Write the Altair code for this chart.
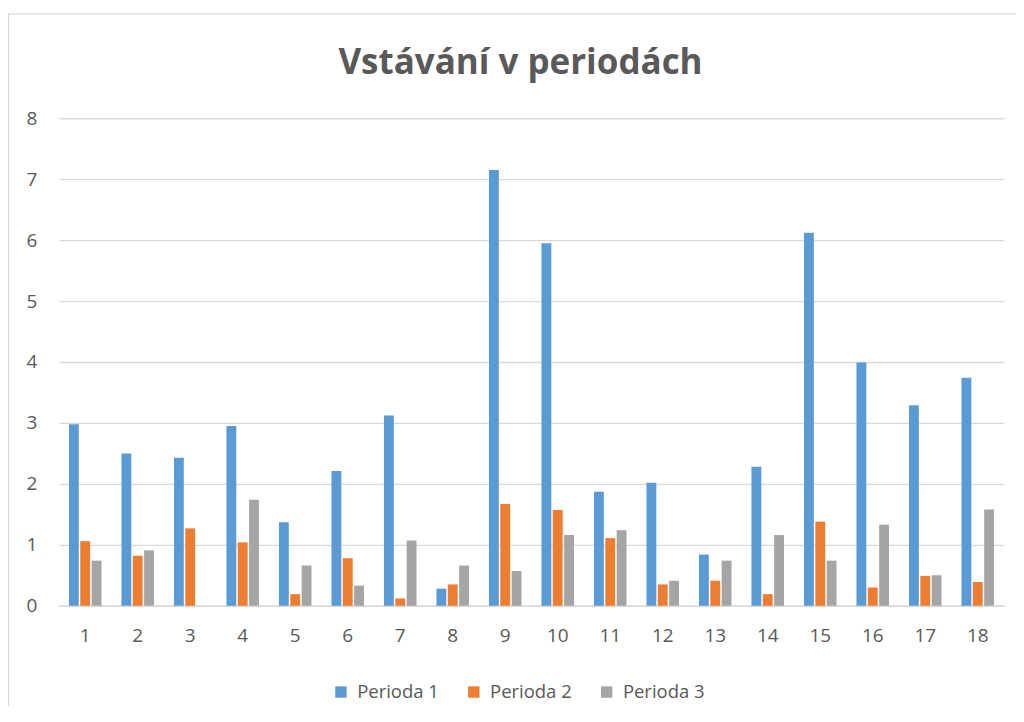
import altair as alt
import pandas as pd

categories = [str(i) for i in range(1, 19)]
series = ["Perioda 1", "Perioda 2", "Perioda 3"]
perioda1 = [2.98, 2.50, 2.43, 2.95, 1.37, 2.21, 3.12, 0.28, 7.15, 5.95, 1.87, 2.02, 0.84, 2.28, 6.12, 3.99, 3.29, 3.74]
perioda2 = [1.06, 0.82, 1.27, 1.04, 0.19, 0.78, 0.12, 0.35, 1.67, 1.57, 1.11, 0.35, 0.41, 0.19, 1.38, 0.30, 0.49, 0.39]
perioda3 = [0.74, 0.91, 0.00, 1.74, 0.66, 0.33, 1.07, 0.66, 0.57, 1.16, 1.24, 0.41, 0.74, 1.16, 0.74, 1.33, 0.50, 1.58]
colors = ["#5B9BD5", "#ED7D31", "#A5A5A5"]
title_text = "Vstávání v periodách"

rows = []
for s, vals in zip(series, [perioda1, perioda2, perioda3]):
    for c, v in zip(categories, vals):
        rows.append({"kategorie": c, "perioda": s, "hodnota": v})
df = pd.DataFrame(rows)

FONT = "Open Sans"
TXT = "#595959"
W, H = 946, 488

bars = alt.Chart(df).mark_bar().encode(
    x=alt.X("kategorie:N", sort=categories,
            scale=alt.Scale(paddingInner=0.38, paddingOuter=0.19),
            axis=alt.Axis(title=None, labelAngle=0, labelFontSize=19, labelColor=TXT,
                          labelFont=FONT, ticks=False, domain=True, domainColor="#D9D9D9",
                          domainWidth=1.5, labelPadding=21)),
    xOffset=alt.XOffset("perioda:N", sort=series, scale=alt.Scale(paddingInner=0.13)),
    y=alt.Y("hodnota:Q", scale=alt.Scale(domain=[0, 8]),
            axis=alt.Axis(title=None, values=list(range(0, 9)), labelFontSize=19,
                          labelColor=TXT, labelFont=FONT, ticks=False, domain=False,
                          gridColor="#D9D9D9", gridWidth=1.3, labelPadding=22)),
    color=alt.Color("perioda:N", sort=series,
                    scale=alt.Scale(domain=series, range=colors),
                    legend=alt.Legend(title=None, orient="none", direction="horizontal",
                                      legendX=273, legendY=565, symbolType="square",
                                      symbolSize=130, symbolStrokeWidth=0,
                                      labelFontSize=18.5, labelColor=TXT, labelFont=FONT,
                                      labelOffset=7, columnPadding=25)),
)

border = alt.Chart(pd.DataFrame({"a": [0]})).mark_rect(
    fill=None, stroke="#D9D9D9", strokeWidth=1.3, clip=False
).encode(x=alt.value(-50.5), x2=alt.value(1400), y=alt.value(-104.5), y2=alt.value(1400))

title = alt.Chart(pd.DataFrame({"t": [title_text]})).mark_text(
    font=FONT, fontSize=35, fontWeight="bold", color=TXT, align="center", baseline="middle"
).encode(text="t:N", x=alt.value(462), y=alt.value(-55))

chart = alt.layer(border, bars, title).properties(
    width=W, height=H,
    autosize=alt.AutoSizeParams(type="none"),
    padding={"left": 51, "top": 110, "right": 12, "bottom": 100},
).configure(background="white", view=alt.ViewConfig(stroke=None))

chart.save("out.html", embed_options={"renderer": "svg", "actions": False})
